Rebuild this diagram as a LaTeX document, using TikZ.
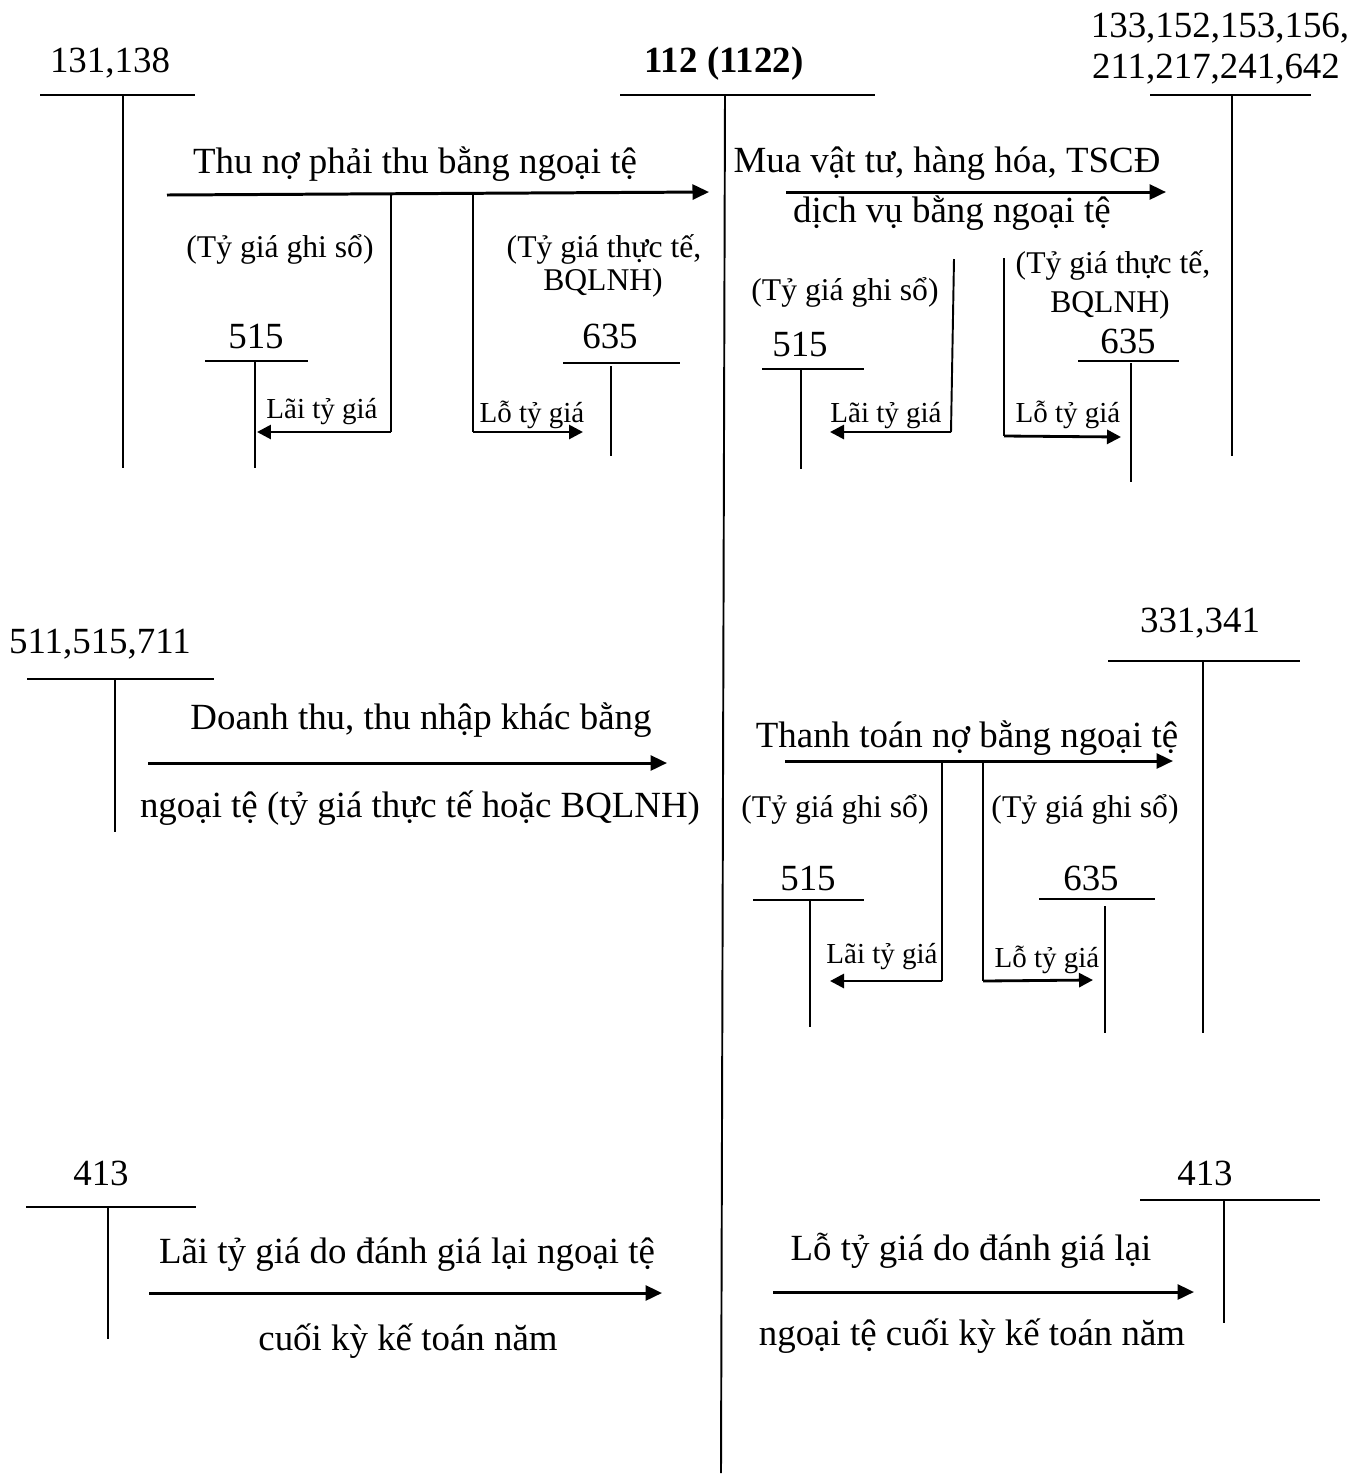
\documentclass[tikz,border=0pt]{standalone}
\usepackage{fontspec}
\setmainfont{Liberation Serif}
\usetikzlibrary{arrows.meta}

\tikzset{
  tline/.style={line width=1.1pt},
  flow/.style={line width=1.7pt,-{Triangle[length=0.33cm,width=0.3cm]}},
  diff/.style={line width=1.6pt,-{Triangle[length=0.28cm,width=0.28cm]}},
  acct/.style={inner sep=0pt,anchor=base,font=\fontsize{21}{25}\selectfont},
  rate/.style={inner sep=0pt,anchor=base,font=\fontsize{18}{21}\selectfont},
  gain/.style={inner sep=0pt,anchor=base,font=\fontsize{16.5}{19}\selectfont}
}

\begin{document}
\begin{tikzpicture}[x=0.02cm,y=-0.02cm,line cap=butt]
  \useasboundingbox (0,0) rectangle (1370,1475);

  % central account
  \node[acct,font=\fontsize{21}{25}\selectfont\bfseries] (t112) at (724,72) {112 (1122)};
  \draw[tline] (620,95) -- (875,95);
  \draw[tline] (725,95) -- (721,1473);

  % --- receivables
  \node[acct] (t131) at (110,72) {131,138};
  \draw[tline] (40,95) -- (195,95);
  \draw[tline] (123,95) -- (123,468);
  \coordinate (r0) at (167,195);
  \coordinate (r1) at (709,192);
  \draw[flow] (r0) -- (r1);
  \node[acct] (lr) at (415,173) {Thu nợ phải thu bằng ngoại tệ};
  \node[rate] (lr1) at (280,257) {(Tỷ giá ghi sổ)};
  \node[rate] (lr2) at (604,257) {(Tỷ giá thực tế,};
  \node[rate] (lr3) at (603,290) {BQLNH)};
  \node[acct] (t515a) at (256,348) {515};
  \draw[tline] (205,361) -- (308,361);
  \draw[tline] (255,361) -- (255,468);
  \node[acct] (t635a) at (610,348) {635};
  \draw[tline] (563,363) -- (680,363);
  \draw[tline] (611,366) -- (611,456);
  \coordinate (ra) at (391,195);
  \coordinate (rb) at (391,432);
  \coordinate (rc) at (257,432);
  \draw[tline] (ra) -- (rb);
  \draw[diff] (rb) -- (rc);
  \node[gain] (lra) at (322,418) {Lãi tỷ giá};
  \coordinate (rd) at (473,195);
  \coordinate (re) at (473,432);
  \coordinate (rf) at (583,432);
  \draw[tline] (rd) -- (re);
  \draw[diff] (re) -- (rf);
  \node[gain] (lrb) at (532,422) {Lỗ tỷ giá};

  % --- purchases
  \node[acct] (t133a) at (1220,37) {133,152,153,156,};
  \node[acct] (t133b) at (1216,78) {211,217,241,642};
  \draw[tline] (1150,95) -- (1311,95);
  \draw[tline] (1232,95) -- (1232,456);
  \coordinate (p0) at (786,192);
  \coordinate (p1) at (1166,192);
  \draw[flow] (p0) -- (p1);
  \node[acct] (lp) at (947,172) {Mua vật tư, hàng hóa, TSCĐ};
  \node[acct] (lp1) at (952,222) {dịch vụ bằng ngoại tệ};
  \node[rate] (lp2) at (845,300) {(Tỷ giá ghi sổ)};
  \node[rate] (lp3) at (1113,273) {(Tỷ giá thực tế,};
  \node[rate] (lp4) at (1110,312) {BQLNH)};
  \node[acct] (t515b) at (800,356) {515};
  \draw[tline] (762,369) -- (864,369);
  \draw[tline] (801,369) -- (801,469);
  \node[acct] (t635b) at (1128,353) {635};
  \draw[tline] (1078,361) -- (1179,361);
  \draw[tline] (1131,363) -- (1131,482);
  \coordinate (pa) at (954,259);
  \coordinate (pb) at (951,432);
  \coordinate (pc) at (830,432);
  \draw[tline] (pa) -- (pb);
  \draw[diff] (pb) -- (pc);
  \node[gain] (lpa) at (886,422) {Lãi tỷ giá};
  \coordinate (pd) at (1004,258);
  \coordinate (pe) at (1004,436);
  \coordinate (pf) at (1121,437);
  \draw[tline] (pd) -- (pe);
  \draw[diff] (pe) -- (pf);
  \node[gain] (lpb) at (1068,422) {Lỗ tỷ giá};

  % --- revenue
  \node[acct] (t511) at (100,653) {511,515,711};
  \draw[tline] (27,679) -- (214,679);
  \draw[tline] (115,679) -- (115,832);
  \coordinate (s0) at (148,763);
  \coordinate (s1) at (667,763);
  \draw[flow] (s0) -- (s1);
  \node[acct] (ls) at (421,729) {Doanh thu, thu nhập khác bằng};
  \node[acct] (ls1) at (420,817) {ngoại tệ (tỷ giá thực tế hoặc BQLNH)};

  % --- payables
  \node[acct] (t331) at (1200,632) {331,341};
  \draw[tline] (1108,661) -- (1300,661);
  \draw[tline] (1203,661) -- (1203,1033);
  \coordinate (q0) at (785,761);
  \coordinate (q1) at (1173,761);
  \draw[flow] (q0) -- (q1);
  \node[acct] (lq) at (967,747) {Thanh toán nợ bằng ngoại tệ};
  \node[rate] (lq1) at (835,817) {(Tỷ giá ghi sổ)};
  \node[rate] (lq2) at (1085,817) {(Tỷ giá ghi sổ)};
  \node[acct] (t515c) at (808,890) {515};
  \draw[tline] (753,900) -- (864,900);
  \draw[tline] (810,900) -- (810,1027);
  \node[acct] (t635c) at (1091,890) {635};
  \draw[tline] (1039,899) -- (1155,899);
  \draw[tline] (1105,906) -- (1105,1033);
  \coordinate (qa) at (942,761);
  \coordinate (qb) at (942,981);
  \coordinate (qc) at (830,981);
  \draw[tline] (qa) -- (qb);
  \draw[diff] (qb) -- (qc);
  \node[gain] (lqa) at (882,963) {Lãi tỷ giá};
  \coordinate (qd) at (983,761);
  \coordinate (qe) at (983,981);
  \coordinate (qf) at (1093,980);
  \draw[tline] (qd) -- (qe);
  \draw[diff] (qe) -- (qf);
  \node[gain] (lqb) at (1047,967) {Lỗ tỷ giá};

  % --- revaluation
  \node[acct] (t413a) at (101,1185) {413};
  \draw[tline] (26,1207) -- (196,1207);
  \draw[tline] (108,1207) -- (108,1339);
  \coordinate (u0) at (149,1293);
  \coordinate (u1) at (662,1293);
  \draw[flow] (u0) -- (u1);
  \node[acct] (lu) at (407,1263) {Lãi tỷ giá do đánh giá lại ngoại tệ};
  \node[acct] (lu1) at (408,1350) {cuối kỳ kế toán năm};

  \node[acct] (t413b) at (1205,1185) {413};
  \draw[tline] (1140,1200) -- (1320,1200);
  \draw[tline] (1224,1200) -- (1224,1323);
  \coordinate (v0) at (773,1292);
  \coordinate (v1) at (1194,1292);
  \draw[flow] (v0) -- (v1);
  \node[acct] (lv) at (971,1260) {Lỗ tỷ giá do đánh giá lại};
  \node[acct] (lv1) at (972,1345) {ngoại tệ cuối kỳ kế toán năm};
\end{tikzpicture}
\end{document}
